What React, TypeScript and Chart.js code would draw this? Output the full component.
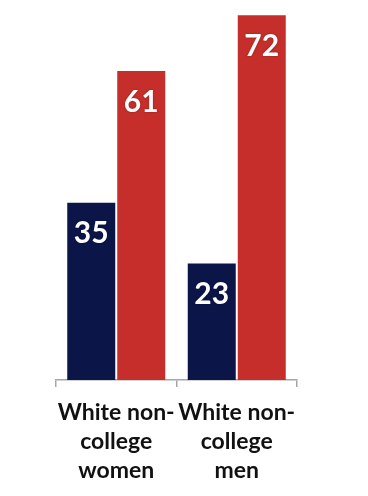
import React, { useEffect, useRef } from "react";
import { Chart, registerables } from "chart.js";

Chart.register(...registerables);

const categories: string[][] = [
  ["White non-", "college", "women"],
  ["White non-", "college", "men"],
];
const navyValues: number[] = [35, 23];
const redValues: number[] = [61, 72];

const NAVY = "#0c1548";
const RED = "#c52e2a";

const valueLabels = {
  id: "valueLabels",
  afterDatasetsDraw(chart: any) {
    const ctx = chart.ctx;
    ctx.save();
    ctx.fillStyle = "#ffffff";
    ctx.font = "bold 30px Lato";
    ctx.textAlign = "center";
    ctx.textBaseline = "middle";
    ctx.shadowColor = "rgba(0,0,0,0.35)";
    ctx.shadowBlur = 2;
    chart.data.datasets.forEach((ds: any, di: number) => {
      const meta = chart.getDatasetMeta(di);
      meta.data.forEach((el: any, i: number) => {
        ctx.fillText(String(ds.data[i]), el.x, el.y + 31);
      });
    });
    ctx.restore();
  },
};

export default function App() {
  const ref = useRef<HTMLCanvasElement | null>(null);
  useEffect(() => {
    if (!ref.current) return;
    const chart = new Chart(ref.current, {
      type: "bar",
      data: {
        labels: categories,
        datasets: [
          { data: navyValues, backgroundColor: NAVY, categoryPercentage: 0.83, barPercentage: 0.96 },
          { data: redValues, backgroundColor: RED, categoryPercentage: 0.83, barPercentage: 0.96 },
        ],
      },
      options: {
        animation: false,
        responsive: false,
        maintainAspectRatio: false,
        layout: { padding: { left: 56, right: 71, top: 0, bottom: 0 } },
        plugins: { legend: { display: false }, tooltip: { enabled: false } },
        scales: {
          y: { display: false, min: 0, max: 75 },
          x: {
            border: { display: true, color: "#a6a6a6", width: 1.5 },
            grid: {
              display: true,
              drawOnChartArea: false,
              drawTicks: true,
              tickLength: 7,
              color: "#a6a6a6",
              lineWidth: 1.5,
              offset: true,
            },
            ticks: {
              color: "#111111",
              font: { family: "Lato", weight: "bold", size: 23, lineHeight: 1.26 },
              padding: 11,
              maxRotation: 0,
              autoSkip: false,
            },
          },
        },
      },
      plugins: [valueLabels],
    });
    return () => chart.destroy();
  }, []);
  return (
    <div style={{ position: "fixed", left: 0, top: 0, width: 368, height: 496, background: "#fff" }}>
      <canvas ref={ref} width={368} height={496} style={{ width: 368, height: 496 }} />
    </div>
  );
}
